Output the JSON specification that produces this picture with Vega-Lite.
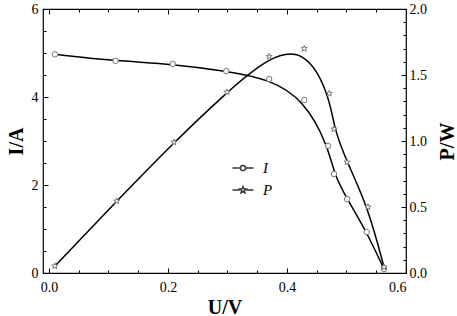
{
  "$schema": "https://vega.github.io/schema/vega-lite/v6.json",
  "width": 363,
  "height": 264,
  "autosize": "none",
  "padding": {"left": 43, "top": 9, "right": 51, "bottom": 43},
  "background": "white",
  "config": {
    "view": {"stroke": "black", "strokeWidth": 1.2},
    "axis": {"grid": false, "domain": false, "tickColor": "black", "tickWidth": 1, "labelFont": "Liberation Serif", "labelFontSize": 14, "labelColor": "black", "titleFont": "Liberation Serif", "titleFontSize": 20, "titleFontWeight": "bold", "titleColor": "black"},
    "legend": {"labelFont": "Liberation Serif", "labelFontSize": 15, "labelFontStyle": "italic", "labelColor": "black"}
  },
  "datasets": {
    "I": [
      {"U": 0.01, "value": 4.97, "series": "I"},
      {"U": 0.112, "value": 4.82, "series": "I"},
      {"U": 0.208, "value": 4.75, "series": "I"},
      {"U": 0.298, "value": 4.59, "series": "I"},
      {"U": 0.370, "value": 4.41, "series": "I"},
      {"U": 0.429, "value": 3.93, "series": "I"},
      {"U": 0.469, "value": 2.89, "series": "I"},
      {"U": 0.479, "value": 2.25, "series": "I"},
      {"U": 0.501, "value": 1.68, "series": "I"},
      {"U": 0.534, "value": 0.93, "series": "I"},
      {"U": 0.563, "value": 0.09, "series": "I"}
    ],
    "P": [
      {"U": 0.01, "value": 0.053, "series": "P"},
      {"U": 0.114, "value": 0.545, "series": "P"},
      {"U": 0.210, "value": 0.99, "series": "P"},
      {"U": 0.299, "value": 1.37, "series": "P"},
      {"U": 0.370, "value": 1.64, "series": "P"},
      {"U": 0.429, "value": 1.70, "series": "P"},
      {"U": 0.471, "value": 1.36, "series": "P"},
      {"U": 0.479, "value": 1.09, "series": "P"},
      {"U": 0.501, "value": 0.84, "series": "P"},
      {"U": 0.536, "value": 0.50, "series": "P"},
      {"U": 0.563, "value": 0.045, "series": "P"}
    ]
  },
  "layer": [
    {
      "data": {"name": "I"},
      "mark": {"type": "line", "interpolate": "basis", "color": "black", "strokeWidth": 1.5},
      "encoding": {
        "x": {"field": "U", "type": "quantitative", "scale": {"domain": [-0.01, 0.6], "nice": false, "zero": false},
              "axis": {"orient": "bottom", "values": [0, 0.2, 0.4, 0.6], "format": ".1f", "tickSize": -5, "labelPadding": 12, "title": "U/V", "titleX": 181.5, "titleY": 34, "titleBaseline": "middle"}},
        "y": {"field": "value", "type": "quantitative", "scale": {"domain": [0, 6], "nice": false},
              "axis": {"orient": "left", "values": [0, 2, 4, 6], "tickSize": -5, "labelPadding": 10, "title": "I/A", "titleAngle": 270, "titleX": -27, "titleY": 132, "titleBaseline": "middle", "titleAlign": "center"}}
      }
    },
    {
      "data": {"name": "P"},
      "mark": {"type": "line", "interpolate": "basis", "color": "black", "strokeWidth": 1.5},
      "encoding": {
        "x": {"field": "U", "type": "quantitative", "scale": {"domain": [-0.01, 0.6], "nice": false, "zero": false},
              "axis": {"orient": "top", "values": [0, 0.2, 0.4, 0.6], "tickSize": -5, "labels": false, "title": null}},
        "y": {"field": "value", "type": "quantitative", "scale": {"domain": [0, 2], "nice": false},
              "axis": {"orient": "right", "values": [0, 0.5, 1, 1.5, 2], "format": ".1f", "tickSize": -5, "labelPadding": 8, "title": "P/W", "titleAngle": 270, "titleX": 41, "titleY": 132, "titleBaseline": "middle", "titleAlign": "center"}}
      }
    },
    {
      "data": {"name": "I"},
      "mark": {"type": "point", "shape": "circle", "filled": false, "fill": "white", "fillOpacity": 1, "stroke": "#777", "strokeWidth": 1, "opacity": 1, "size": 30},
      "encoding": {
        "x": {"field": "U", "type": "quantitative", "scale": {"domain": [-0.01, 0.6], "nice": false, "zero": false},
              "axis": {"orient": "bottom", "values": [0.05, 0.1, 0.15, 0.25, 0.3, 0.35, 0.45, 0.5, 0.55], "tickSize": -3, "labels": false, "title": null}},
        "y": {"field": "value", "type": "quantitative", "scale": {"domain": [0, 6], "nice": false},
              "axis": {"orient": "left", "values": [0.5, 1, 1.5, 2.5, 3, 3.5, 4.5, 5, 5.5], "tickSize": -3, "labels": false, "title": null}}
      }
    },
    {
      "data": {"name": "P"},
      "mark": {"type": "point", "shape": "M0,-1L0.235,-0.324L0.951,-0.309L0.38,0.124L0.588,0.809L0,0.4L-0.588,0.809L-0.38,0.124L-0.951,-0.309L-0.235,-0.324Z", "filled": false, "fill": "white", "fillOpacity": 1, "stroke": "#777", "strokeWidth": 1, "opacity": 1, "size": 42},
      "encoding": {
        "x": {"field": "U", "type": "quantitative", "scale": {"domain": [-0.01, 0.6], "nice": false, "zero": false},
              "axis": {"orient": "top", "values": [0.05, 0.1, 0.15, 0.25, 0.3, 0.35, 0.45, 0.5, 0.55], "tickSize": -3, "labels": false, "title": null}},
        "y": {"field": "value", "type": "quantitative", "scale": {"domain": [0, 2], "nice": false},
              "axis": {"orient": "right", "values": [0.1, 0.2, 0.3, 0.4, 0.6, 0.7, 0.8, 0.9, 1.1, 1.2, 1.3, 1.4, 1.6, 1.7, 1.8, 1.9], "tickSize": -3, "labels": false, "title": null}}
      }
    },
    {
      "data": {"name": "I"},
      "mark": {"type": "point", "filled": false, "opacity": 0, "color": "#333"},
      "encoding": {
        "x": {"field": "U", "type": "quantitative", "scale": {"domain": [-0.01, 0.6], "nice": false, "zero": false}, "axis": null},
        "y": {"field": "value", "type": "quantitative", "scale": {"domain": [0, 6], "nice": false}, "axis": null},
        "shape": {"field": "series", "type": "nominal",
                  "scale": {"domain": ["I", "P"], "range": ["M-1.5,0L-0.36,0M0.36,0L1.5,0M0.36,0A0.36,0.36,0,1,1,-0.36,0A0.36,0.36,0,1,1,0.36,0", "M-1.5,0L-0.45,0M0.45,0L1.5,0M0,-0.5L0.118,-0.162L0.476,-0.155L0.19,0.062L0.294,0.405L0,0.2L-0.294,0.405L-0.19,0.062L-0.476,-0.155L-0.118,-0.162Z"]},
                  "legend": {"orient": "none", "legendX": 192, "legendY": 151, "title": null, "rowPadding": 6, "labelOffset": 12, "padding": 0,
                    "symbolSize": 196, "symbolStrokeColor": "#333", "symbolFillColor": "white", "symbolStrokeWidth": 1.3, "symbolOpacity": 1,
                    "encode": {"symbols": {"update": {
                      "size": {"value": 196},
                      "stroke": {"value": "#333"},
                      "fill": {"value": "white"},
                      "fillOpacity": {"value": 1},
                      "strokeWidth": {"value": 1.3},
                      "opacity": {"value": 1}
                    }}}}}
      }
    }
  ],
  "resolve": {
    "scale": {"x": "independent", "y": "independent"},
    "axis": {"x": "independent", "y": "independent"}
  }
}
